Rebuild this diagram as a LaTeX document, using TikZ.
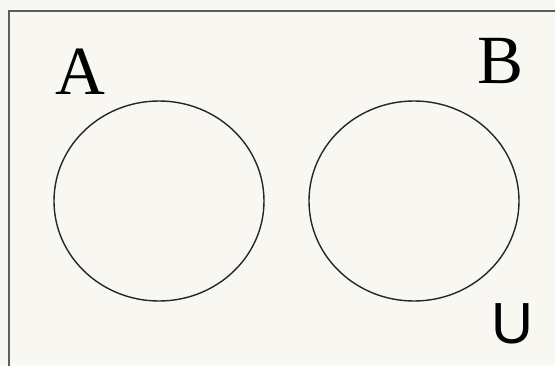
\documentclass[tikz,border=0pt]{standalone}
\usepackage{fontspec}
\setmainfont{Liberation Serif}
\newfontfamily\usans{Liberation Sans}
\definecolor{bg}{HTML}{F8F7F2}
\definecolor{frame}{HTML}{5E5E5E}
\begin{document}
\begin{tikzpicture}[x=1pt,y=-1pt,
  setcirc/.style={draw=black!85,line width=1.4pt},
  serlabel/.style={inner sep=0pt,font=\fontsize{69}{69}\selectfont},
  unilabel/.style={inner sep=0pt,font=\usans\fontsize{58}{58}\selectfont}]
\fill[bg] (0,0) rectangle (555,365);
\useasboundingbox (0,0) rectangle (555,365);
\draw[frame,line width=2.2pt] (9,400) -- (9,11) -- (600,11);
\draw[setcirc] (159,201) ellipse [x radius=105, y radius=100];
\draw[setcirc] (414,201) ellipse [x radius=105, y radius=100];
\node[serlabel,anchor=base] (A) at (80,94) {A};
\node[serlabel,anchor=base] (B) at (501,83) {B};
\node[unilabel,anchor=base] (U) at (512,343) {U};
\end{tikzpicture}
\end{document}
